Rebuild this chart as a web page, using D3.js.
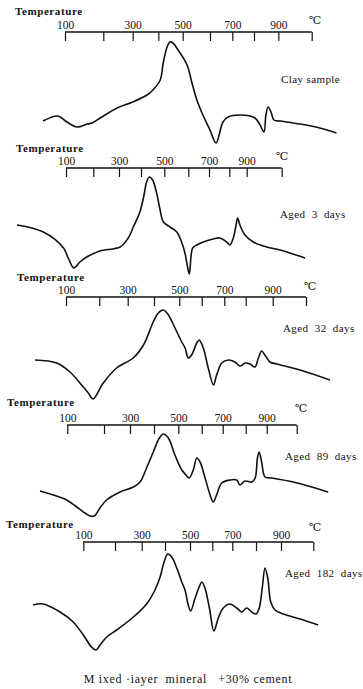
<html>
<head>
<meta charset="utf-8">
<title>DTA curves</title>
<script src="https://d3js.org/d3.v7.min.js"></script>
<style>
  body { margin: 0; padding: 0; background: #fff; overflow: hidden; }
  svg text { font-family: 'Liberation Serif', 'DejaVu Serif', serif; fill: #111; }
</style>
</head>
<body>
<svg id="chart" width="363" height="689"></svg>
<script>
// temperature ticks of every recorder strip
var tickValues = [100, 200, 300, 400, 500, 600, 700, 800, 900, 1000];
var tickLabels = [100, 300, 500, 700, 900];
var sampleNames = ["Clay sample", "Aged  3  days", "Aged  32  days", "Aged  89  days", "Aged  182  days"];
var caption = "M ixed \u00b7iayer  mineral   +30% cement";

// curves: temperature (C) and deflection (arbitrary, up = exothermic)
var clayT  = [20, 74, 105, 132, 158, 171, 192, 247, 300, 356, 379, 408, 420, 436, 448, 460, 481, 516, 534, 552, 574, 600, 627, 658, 681, 736, 804, 825, 841, 849, 858, 870, 882, 905, 965, 1024, 1074];
var clayDT = [0, 5, -1, -6, -3, -2, 3, 13, 19, 26, 31, 41, 58, 74, 79, 78, 71, 56, 38, 21, 6, -9, -22, -1, 4, 6, 3, -4, -11, 6, 14, 9, 1, 0, -3, -7, -12];

var aged3T  = [20, 63, 96, 108, 129, 151, 176, 226, 305, 342, 365, 395, 413, 424, 436, 450, 467, 482, 496, 524, 552, 572, 586, 597, 605, 621, 641, 673, 721, 754, 787, 804, 823, 839, 848, 861, 890, 919, 957, 995, 1067];
var aged3DT = [0, -7, -23, -33, -43, -37, -32, -26, -22, -13, -2, 13, 30, 43, 48, 45, 32, 15, 3, -2, -7, -17, -28, -42, -49, -23, -20, -17, -14, -13, -17, -20, -13, 0, 7, 0, -10, -17, -22, -25, -33];

var aged32T  = [20, 76, 112, 147, 167, 181, 214, 261, 321, 360, 397, 417, 437, 457, 483, 511, 526, 540, 555, 578, 589, 607, 629, 652, 666, 689, 719, 750, 773, 797, 816, 834, 847, 859, 871, 890, 912, 982, 1072];
var aged32DT = [0, -3, -12, -25, -33, -39, -23, -8, 2, 15, 38, 47, 50, 45, 32, 18, 12, 2, 5, 17, 20, 12, -8, -25, -15, -3, 0, -2, -6, -3, -4, -7, 2, 9, 5, -2, -4, -10, -20];

var aged89T  = [20, 59, 98, 126, 148, 162, 174, 189, 210, 262, 314, 342, 369, 397, 422, 438, 459, 486, 515, 533, 546, 564, 579, 593, 616, 640, 655, 671, 695, 732, 761, 775, 797, 829, 845, 856, 864, 876, 892, 917, 989, 1105];
var aged89DT = [0, -4, -9, -16, -22, -25, -25, -17, -9, -1, 4, 9, 23, 39, 53, 57, 53, 36, 21, 16, 13, 21, 33, 29, 13, -4, -11, -4, 8, 11, 11, 6, 10, 9, 13, 33, 39, 29, 14, 13, 9, -1];

var aged182T  = [20, 36, 63, 84, 100, 126, 140, 153, 174, 206, 269, 321, 357, 379, 396, 411, 427, 447, 467, 480, 493, 503, 523, 541, 553, 567, 587, 608, 630, 655, 688, 719, 740, 761, 782, 800, 813, 825, 836, 847, 859, 876, 907, 959, 1015];
var aged182DT = [0, 1, -7, -17, -30, -42, -45, -40, -32, -25, -12, 1, 15, 28, 43, 51, 48, 37, 23, 15, 0, -6, 7, 18, 23, 17, -3, -26, -13, -3, 1, -3, -7, -3, -7, -9, -3, 17, 37, 27, 3, -5, -9, -14, -20];

var seriesT  = [clayT, aged3T, aged32T, aged89T, aged182T];
var seriesDT = [clayDT, aged3DT, aged32DT, aged89DT, aged182DT];

// layout of the five strips (pixel positions, the printed scales are not even)
var panels = [
  {axisY: 32,  zeroY: 121, startX: 43, tickX: [65, 103.3, 132.7, 158.3, 182.7, 210, 232.3, 254, 278.3, 311.7], titleX: 15, titleY: 15,  degX: 309, degY: 24,  nameX: 281, nameY: 83},
  {axisY: 168, zeroY: 225, startX: 17, tickX: [66, 93.3, 119, 141, 164.3, 188.3, 209, 229.3, 246.7, 281.7], titleX: 16, titleY: 152, degX: 276, degY: 160, nameX: 280, nameY: 218},
  {axisY: 297, zeroY: 360, startX: 35, tickX: [66, 99.3, 127.7, 154, 179.3, 201.7, 224.3, 245.7, 272.7, 306], titleX: 17, titleY: 281, degX: 304, degY: 290, nameX: 283, nameY: 332},
  {axisY: 425, zeroY: 491, startX: 40, tickX: [67.3, 104, 130, 154, 178.3, 201.7, 222.7, 245.7, 266.7, 296.7], titleX: 7, titleY: 406, degX: 295, degY: 412, nameX: 285, nameY: 460},
  {axisY: 542, zeroY: 605, startX: 33, tickX: [83.3, 115, 141.7, 165, 190, 212.3, 232.3, 256, 281, 313.3], titleX: 6, titleY: 528, degX: 309, degY: 531, nameX: 285, nameY: 577}
];

var svg = d3.select("#chart");

panels.forEach(function(p, i) {
  var g = svg.append("g");

  // piecewise scale: 20 C at the strip start, then the printed ticks
  var x = d3.scaleLinear()
    .domain([20].concat(tickValues))
    .range([p.startX].concat(p.tickX));
  var y = d3.scaleLinear().domain([-60, 90]).range([p.zeroY + 60, p.zeroY - 90]);

  g.append("text")
    .attr("x", p.titleX).attr("y", p.titleY)
    .attr("font-size", 11).attr("font-weight", "bold")
    .attr("letter-spacing", 0.6)
    .text("Temperature");

  var axis = d3.axisBottom(x)
    .tickValues(tickValues)
    .tickSize(9)
    .tickSizeOuter(0)
    .tickFormat(function(d) { return tickLabels.indexOf(d) >= 0 ? d : ""; });

  var ag = g.append("g")
    .attr("transform", "translate(0," + p.axisY + ")")
    .call(axis);
  ag.select(".domain").remove();
  ag.selectAll(".tick line").attr("stroke", "#111").attr("stroke-width", 1.2);
  ag.selectAll(".tick text")
    .attr("y", -3).attr("dy", 0)
    .attr("font-size", 11.5)
    .attr("font-family", "'Liberation Serif', 'DejaVu Serif', serif")
    .attr("fill", "#111");

  ag.append("line")
    .attr("x1", x(tickValues[0])).attr("x2", x(tickValues[tickValues.length - 1]))
    .attr("y1", 0).attr("y2", 0)
    .attr("stroke", "#111").attr("stroke-width", 1.3);

  g.append("text")
    .attr("x", p.degX).attr("y", p.degY)
    .attr("font-size", 11)
    .text("\u2103");

  g.append("text")
    .attr("x", p.nameX).attr("y", p.nameY)
    .attr("font-size", 11)
    .attr("letter-spacing", 0.4)
    .style("white-space", "pre")
    .text(sampleNames[i]);

  var pts = seriesT[i].map(function(t, k) { return [t, seriesDT[i][k]]; });
  var line = d3.line()
    .x(function(d) { return x(d[0]); })
    .y(function(d) { return y(d[1]); })
    .curve(d3.curveCatmullRom.alpha(0.5));

  g.append("path")
    .attr("d", line(pts))
    .attr("fill", "none")
    .attr("stroke", "#111")
    .attr("stroke-width", 1.6)
    .attr("stroke-linejoin", "round");
});

svg.append("text")
  .attr("x", 188).attr("y", 683)
  .attr("text-anchor", "middle")
  .attr("font-size", 12)
  .attr("letter-spacing", 0.7)
  .style("white-space", "pre")
  .text(caption);
</script>
</body>
</html>
